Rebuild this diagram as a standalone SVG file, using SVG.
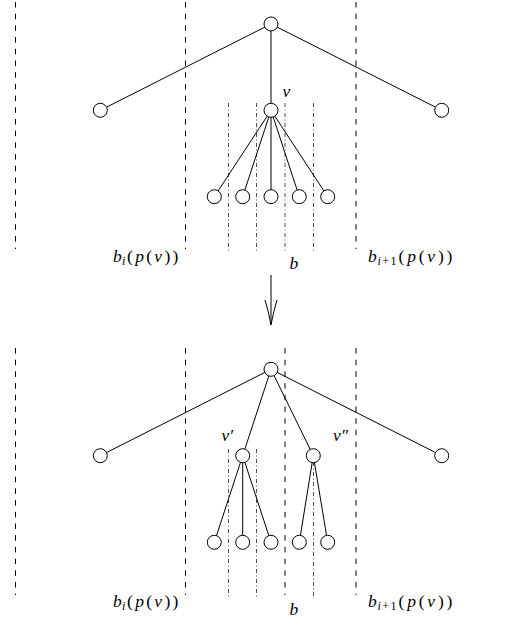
<svg xmlns="http://www.w3.org/2000/svg" width="530" height="617" viewBox="0 0 530 617">
<style>
.dash{stroke:#000;stroke-width:1;stroke-dasharray:5.5 6.2;fill:none}
.dd{stroke:#222;stroke-width:0.8;stroke-dasharray:4 2.5 1 2.5;fill:none}
.edge{stroke:#000;stroke-width:1;fill:none}
.node{fill:#fff;stroke:#000;stroke-width:1}
.lbl{font-family:"Liberation Serif","DejaVu Serif",serif;font-style:italic;font-size:17.5px;fill:#000}
.sub{font-size:12px}
.up{font-style:normal}
.arg{letter-spacing:2.3px}
</style>
<rect width="530" height="617" fill="#fff"/>
<g id="guides">
<line class="dash" x1="15.5" y1="2" x2="15.5" y2="249"/>
<line class="dash" x1="185.5" y1="2" x2="185.5" y2="249"/>
<line class="dash" x1="356" y1="2" x2="356" y2="249"/>
<line class="dd" x1="228.5" y1="103" x2="228.5" y2="253"/>
<line class="dd" x1="256.5" y1="103" x2="256.5" y2="253"/>
<line class="dd" x1="285" y1="103" x2="285" y2="253"/>
<line class="dd" x1="313.5" y1="103" x2="313.5" y2="253"/>
<line class="dash" x1="15.5" y1="348" x2="15.5" y2="595"/>
<line class="dash" x1="185.5" y1="348" x2="185.5" y2="595"/>
<line class="dash" x1="285" y1="348" x2="285" y2="595"/>
<line class="dash" x1="356" y1="348" x2="356" y2="595"/>
<line class="dd" x1="228.5" y1="449" x2="228.5" y2="599"/>
<line class="dd" x1="256.5" y1="449" x2="256.5" y2="599"/>
<line class="dd" x1="313.5" y1="462" x2="313.5" y2="599"/>
</g>
<g id="connectors">
<line class="edge" x1="271" y1="24" x2="100.3" y2="110.3"/>
<line class="edge" x1="271" y1="24" x2="441.7" y2="110.3"/>
<line class="edge" x1="271" y1="24" x2="271" y2="110.3"/>
<line class="edge" x1="271" y1="110.3" x2="214.3" y2="196.7"/>
<line class="edge" x1="271" y1="110.3" x2="242.7" y2="196.7"/>
<line class="edge" x1="271" y1="110.3" x2="271" y2="196.7"/>
<line class="edge" x1="271" y1="110.3" x2="299.3" y2="196.7"/>
<line class="edge" x1="271" y1="110.3" x2="327.7" y2="196.7"/>
<line class="edge" x1="271" y1="369.3" x2="100.3" y2="455.7"/>
<line class="edge" x1="271" y1="369.3" x2="441.7" y2="455.7"/>
<line class="edge" x1="271" y1="369.3" x2="242.7" y2="455.7"/>
<line class="edge" x1="271" y1="369.3" x2="313.3" y2="455.7"/>
<line class="edge" x1="242.7" y1="455.7" x2="214.3" y2="542.3"/>
<line class="edge" x1="242.7" y1="455.7" x2="242.7" y2="542.3"/>
<line class="edge" x1="242.7" y1="455.7" x2="271" y2="542.3"/>
<line class="edge" x1="313.3" y1="455.7" x2="299.3" y2="542.3"/>
<line class="edge" x1="313.3" y1="455.7" x2="327.7" y2="542.3"/>
<g id="arrow">
<line class="edge" x1="271" y1="275" x2="271" y2="324"/>
<path class="edge" d="M265 300 Q268.5 311 271 325 Q273.5 311 277 300"/>
</g>
</g>
<g id="top-root"><circle class="node" cx="271" cy="24" r="7"/></g>
<g id="top-left"><circle class="node" cx="100.3" cy="110.3" r="7"/></g>
<g id="top-right"><circle class="node" cx="441.7" cy="110.3" r="7"/></g>
<g id="top-v"><circle class="node" cx="271" cy="110.3" r="7"/><text class="lbl" x="282.5" y="96.5">v</text></g>
<g id="top-leaf1"><circle class="node" cx="214.3" cy="196.7" r="7"/></g>
<g id="top-leaf2"><circle class="node" cx="242.7" cy="196.7" r="7"/></g>
<g id="top-leaf3"><circle class="node" cx="271" cy="196.7" r="7"/></g>
<g id="top-leaf4"><circle class="node" cx="299.3" cy="196.7" r="7"/></g>
<g id="top-leaf5"><circle class="node" cx="327.7" cy="196.7" r="7"/></g>
<g id="bot-root"><circle class="node" cx="271" cy="369.3" r="7"/></g>
<g id="bot-left"><circle class="node" cx="100.3" cy="455.7" r="7"/></g>
<g id="bot-right"><circle class="node" cx="441.7" cy="455.7" r="7"/></g>
<g id="bot-v1"><circle class="node" cx="242.7" cy="455.7" r="7"/><text class="lbl" x="221.5" y="441">v′</text></g>
<g id="bot-v2"><circle class="node" cx="313.3" cy="455.7" r="7"/><text class="lbl" x="333" y="441">v″</text></g>
<g id="bot-leaf1"><circle class="node" cx="214.3" cy="542.3" r="7"/></g>
<g id="bot-leaf2"><circle class="node" cx="242.7" cy="542.3" r="7"/></g>
<g id="bot-leaf3"><circle class="node" cx="271" cy="542.3" r="7"/></g>
<g id="bot-leaf4"><circle class="node" cx="299.3" cy="542.3" r="7"/></g>
<g id="bot-leaf5"><circle class="node" cx="327.7" cy="542.3" r="7"/></g>
<g id="labels">
<text class="lbl" x="113" y="261.5">b<tspan class="sub" x="122" dy="3">i</tspan><tspan class="arg" x="127" dy="-3"><tspan class="up">(</tspan>p<tspan class="up">(</tspan>v<tspan class="up">))</tspan></tspan></text>
<text class="lbl" x="368" y="261.5">b<tspan class="sub" x="377.5" dy="3" style="letter-spacing:1.5px">i<tspan class="up">+1</tspan></tspan><tspan class="arg" x="398.5" dy="-3" style="letter-spacing:2.8px"><tspan class="up">(</tspan>p<tspan class="up">(</tspan>v<tspan class="up">))</tspan></tspan></text>
<text class="lbl" x="289.5" y="269">b</text>
<text class="lbl" x="113" y="607">b<tspan class="sub" x="122" dy="3">i</tspan><tspan class="arg" x="127" dy="-3"><tspan class="up">(</tspan>p<tspan class="up">(</tspan>v<tspan class="up">))</tspan></tspan></text>
<text class="lbl" x="368" y="607">b<tspan class="sub" x="377.5" dy="3" style="letter-spacing:1.5px">i<tspan class="up">+1</tspan></tspan><tspan class="arg" x="398.5" dy="-3" style="letter-spacing:2.8px"><tspan class="up">(</tspan>p<tspan class="up">(</tspan>v<tspan class="up">))</tspan></tspan></text>
<text class="lbl" x="289.5" y="614.5">b</text>
</g>
</svg>
